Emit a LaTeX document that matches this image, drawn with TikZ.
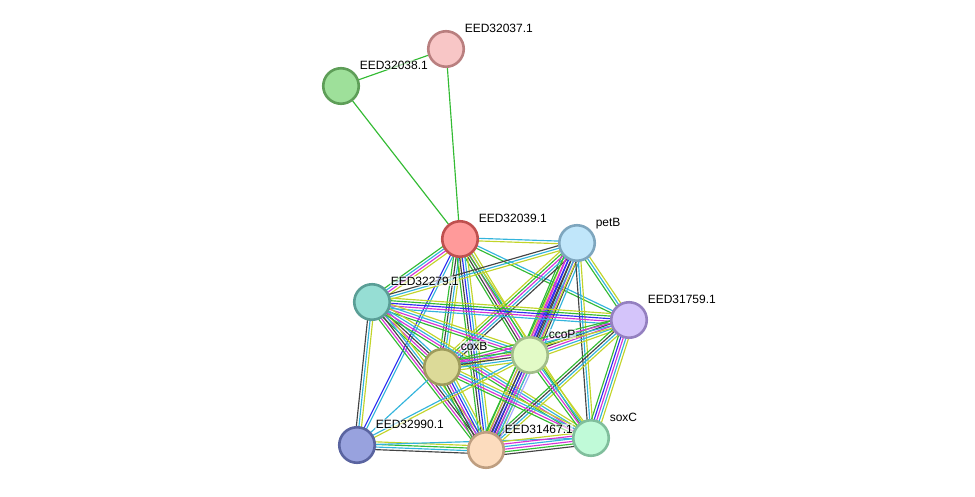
\documentclass[tikz,border=0pt]{standalone}
\usepackage{fontspec}
\setmainfont{Liberation Sans}
\usetikzlibrary{calc,backgrounds}
\definecolor{cgr}{HTML}{33BB33}
\definecolor{cye}{HTML}{C2D42A}
\definecolor{ccy}{HTML}{33B4DC}
\definecolor{cma}{HTML}{D633D6}
\definecolor{cbl}{HTML}{2E2EF0}
\definecolor{cdk}{HTML}{444444}
\definecolor{cla}{HTML}{A8A8FF}
\newcommand\stredge[3]{%
  \foreach \c [count=\i] in {#3} {\xdef\ncount{\i}}%
  \foreach \c [count=\i] in {#3} {%
    \pgfmathsetmacro\off{(\i-(\ncount+1)/2)*2.6}%
    \draw[\c, edgeline] ($(#1)!\off pt!90:(#2)$) -- ($(#2)!\off pt!-90:(#1)$);
  }}
\begin{document}
\begin{tikzpicture}[x=1pt,y=-1pt,
  prot/.style={circle, minimum size=35.5pt, inner sep=0pt, line width=2.6pt},
  lbl/.style={anchor=base west, font=\fontsize{12}{14}\selectfont, inner sep=0.6pt, fill=white, fill opacity=0.6, text opacity=1},
  edgeline/.style={line width=1.15pt}]
\useasboundingbox (0,0) rectangle (975,496);
\node[prot, fill={rgb,255:red,248;green,198;blue,198}, draw={rgb,255:red,185;green,127;blue,127}] (n37) at (446,49) {};
\node[prot, fill={rgb,255:red,158;green,224;blue,154}, draw={rgb,255:red,94;green,158;blue,88}] (n38) at (341,86) {};
\node[prot, fill={rgb,255:red,255;green,154;blue,154}, draw={rgb,255:red,192;green,80;blue,79}] (n39) at (460,239) {};
\node[prot, fill={rgb,255:red,192;green,230;blue,250}, draw={rgb,255:red,126;green,166;blue,190}] (petB) at (577,243) {};
\node[prot, fill={rgb,255:red,150;green,222;blue,212}, draw={rgb,255:red,90;green,158;blue,150}] (n79) at (372,302) {};
\node[prot, fill={rgb,255:red,212;green,196;blue,250}, draw={rgb,255:red,148;green,128;blue,192}] (n59) at (629,320) {};
\node[prot, fill={rgb,255:red,226;green,250;blue,198}, draw={rgb,255:red,162;green,190;blue,138}] (ccoP) at (530,355) {};
\node[prot, fill={rgb,255:red,220;green,218;blue,152}, draw={rgb,255:red,158;green,156;blue,92}] (coxB) at (442,367) {};
\node[prot, fill={rgb,255:red,152;green,162;blue,222}, draw={rgb,255:red,90;green,100;blue,160}] (n90) at (357,445) {};
\node[prot, fill={rgb,255:red,252;green,220;blue,190}, draw={rgb,255:red,190;green,158;blue,128}] (n67) at (486,450) {};
\node[prot, fill={rgb,255:red,192;green,250;blue,216}, draw={rgb,255:red,128;green,190;blue,156}] (soxC) at (591,438) {};
\begin{pgfonlayer}{background}
\stredge{n38}{n37}{cgr}
\stredge{n38}{n39}{cgr}
\stredge{n37}{n39}{cgr}
\stredge{n39}{petB}{cye,ccy}
\stredge{n39}{n79}{cgr,ccy,cma,cye}
\stredge{n39}{n59}{cgr,ccy}
\stredge{n39}{ccoP}{cgr,cdk,cma,ccy,cye}
\stredge{n39}{coxB}{cgr,cdk,ccy,cye}
\stredge{n39}{n90}{cbl,ccy}
\stredge{n39}{n67}{cgr,cdk,cbl,ccy,cye}
\stredge{n39}{soxC}{cgr,cye}
\stredge{petB}{n79}{cdk,ccy,cye}
\stredge{petB}{n59}{cgr,ccy,cye}
\stredge{petB}{ccoP}{cgr,cye,cma,cbl,cdk,cma,cdk,ccy}
\stredge{petB}{coxB}{cye,cgr,cma,ccy,cdk}
\stredge{petB}{n67}{cgr,cma,cbl,cdk,ccy,cye}
\stredge{petB}{soxC}{cdk,ccy,cye}
\stredge{n79}{n59}{ccy,cma,cbl,cgr,cye}
\stredge{n79}{ccoP}{cgr,cma,ccy,cye}
\stredge{n79}{coxB}{cgr,cma,cdk,ccy}
\stredge{n79}{n90}{cdk,ccy,cye}
\stredge{n79}{n67}{cgr,cma,cdk,ccy,cye}
\stredge{n79}{soxC}{cgr,cma,ccy,cye}
\stredge{n59}{ccoP}{cgr,cdk,cma,ccy,cye}
\stredge{n59}{coxB}{cgr,cma,ccy,cye}
\stredge{n59}{n67}{cgr,cdk,ccy,cye}
\stredge{n59}{soxC}{cgr,cbl,cma,ccy,cye}
\stredge{ccoP}{coxB}{cgr,cma,cdk,ccy,cye}
\stredge{ccoP}{n67}{cgr,cye,cdk,cbl,cma,ccy,cla}
\stredge{ccoP}{soxC}{cgr,cma,ccy,cye}
\stredge{coxB}{n67}{cgr,cdk,cma,cbl,ccy,cye}
\stredge{coxB}{soxC}{cgr,cma,ccy,cye}
\stredge{n90}{coxB}{ccy}
\stredge{n90}{ccoP}{cye,ccy}
\stredge{n90}{n67}{cdk,ccy,cgr,cye}
\stredge{n90}{soxC}{ccy}
\stredge{n67}{soxC}{cdk,cgr,cma,ccy,cma,cye}
\end{pgfonlayer}
\node[lbl] (l37) at (464,32) {EED32037.1};
\node[lbl] (l38) at (359,69) {EED32038.1};
\node[lbl] (l39) at (478,222) {EED32039.1};
\node[lbl] (lpetB) at (595,226) {petB};
\node[lbl] (l79) at (390,285) {EED32279.1};
\node[lbl] (l59) at (647,303) {EED31759.1};
\node[lbl] (lccoP) at (548,338) {ccoP};
\node[lbl] (lcoxB) at (460,350) {coxB};
\node[lbl] (l90) at (375,428) {EED32990.1};
\node[lbl] (l67) at (504,433) {EED31467.1};
\node[lbl] (lsoxC) at (609,421) {soxC};
\end{tikzpicture}
\end{document}
